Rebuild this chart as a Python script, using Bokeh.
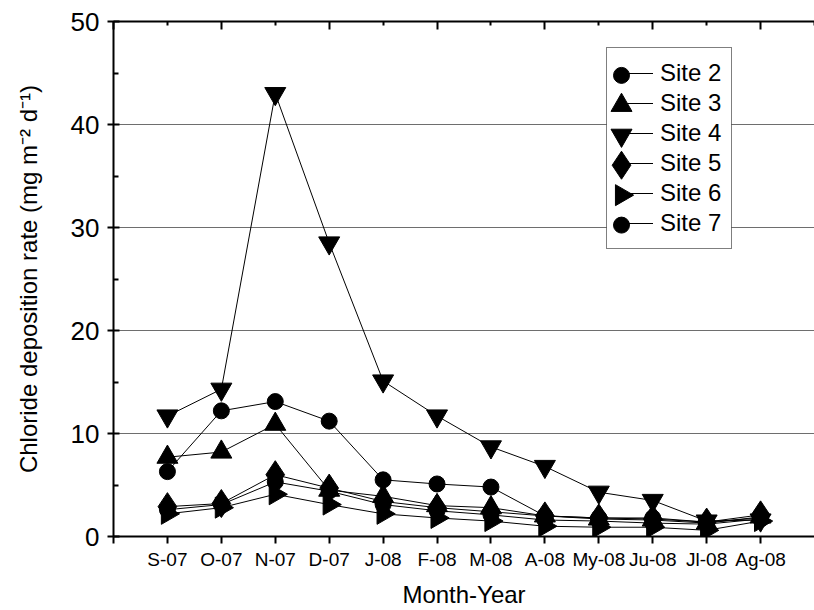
import math
from bokeh.plotting import figure
from bokeh.models import (LinearAxis, FixedTicker, Legend, LegendItem, Range1d,
                          ColumnDataSource)
from bokeh.embed import file_html
from bokeh.resources import INLINE

months = ["S-07", "O-07", "N-07", "D-07", "J-08", "F-08", "M-08",
          "A-08", "My-08", "Ju-08", "Jl-08", "Ag-08"]
site2 = [6.3, 12.2, 13.1, 11.2, 5.5, 5.1, 4.8, 2.0, 1.8, 1.8, 1.4, 1.8]
site3 = [7.7, 8.2, 10.9, 4.5, 3.9, 3.0, 2.8, 2.0, 1.7, 1.6, 1.3, 1.9]
site4 = [11.7, 14.3, 43.0, 28.5, 15.1, 11.7, 8.7, 6.8, 4.3, 3.5, 1.5, 1.6]
site5 = [2.9, 3.2, 6.0, 4.7, 3.4, 2.8, 2.4, 2.0, 1.8, 1.7, 1.4, 2.1]
site6 = [2.2, 2.8, 4.1, 3.1, 2.2, 1.8, 1.5, 1.0, 0.9, 0.9, 0.6, 1.5]
site7 = [2.6, 3.1, 5.3, 4.4, 3.1, 2.5, 2.1, 1.6, 1.5, 1.3, 1.2, 1.7]
site_names = ["Site 2", "Site 3", "Site 4", "Site 5", "Site 6", "Site 7"]
y_ticks = [0, 10, 20, 30, 40, 50]
y_minor = [5, 15, 25, 35, 45]

FONT = "Liberation Sans"
n = len(months)
x = list(range(1, n + 1))

# frame geometry (pixels)
W, H = 814, 610
FL, FR, FT, FB = 113, 814, 21, 537
X0, X1 = 0, n + 1
Y0, Y1 = 0, 50

p = figure(width=W, height=H, output_backend="svg", toolbar_location=None,
           x_range=Range1d(X0, X1), y_range=Range1d(Y0, Y1),
           min_border_left=FL, min_border_right=W - FR, min_border_top=FT,
           min_border_bottom=H - FB)
p.outline_line_color = None
p.background_fill_color = "white"
p.border_fill_color = "white"
p.xgrid.visible = False
p.ygrid.ticker = FixedTicker(ticks=y_ticks[1:-1])
p.ygrid.grid_line_color = "#6e6e6e"
p.ygrid.grid_line_width = 1

# bottom axis
xa = p.xaxis[0]
xa.ticker = FixedTicker(ticks=list(range(0, n + 1)))
ov = {0: ""}
for i, m in enumerate(months):
    ov[i + 1] = m
xa.major_label_overrides = ov
xa.major_tick_in = 0
xa.major_tick_out = 7
xa.minor_tick_line_color = None
xa.major_label_standoff = 5
xa.major_label_text_font = FONT
xa.major_label_text_font_size = "19px"
xa.major_label_text_color = "black"
xa.axis_label = "Month-Year"
xa.axis_label_text_font = FONT
xa.axis_label_text_font_size = "24px"
xa.axis_label_text_font_style = "normal"
xa.axis_label_text_color = "black"
xa.axis_label_standoff = 8
xa.axis_line_width = 2
xa.major_tick_line_width = 2

# left axis
ya = p.yaxis[0]
ya.ticker = FixedTicker(ticks=y_ticks, minor_ticks=y_minor)
ya.major_tick_in = 6
ya.major_tick_out = 6
ya.minor_tick_in = 5
ya.minor_tick_out = 0
ya.major_label_standoff = 8
ya.major_label_text_font = FONT
ya.major_label_text_font_size = "26px"
ya.major_label_text_color = "black"
ya.axis_label = "Chloride deposition rate (mg m\u207b\u00b2 d\u207b\u00b9)"
ya.axis_label_text_font = FONT
ya.axis_label_text_font_size = "24px"
ya.axis_label_text_font_style = "normal"
ya.axis_label_text_color = "black"
ya.axis_label_standoff = 26
ya.axis_line_width = 2
ya.major_tick_line_width = 2
ya.minor_tick_line_width = 2

# top axis, ticks inward, no labels
top_major = list(range(0, n + 2, 2))
top_minor = list(range(1, n + 2, 2))
top = LinearAxis(ticker=FixedTicker(ticks=top_major, minor_ticks=top_minor),
                 major_label_overrides={t: "" for t in top_major},
                 major_label_text_font_size="0px", major_label_standoff=0,
                 major_tick_in=8, major_tick_out=0, minor_tick_in=4, minor_tick_out=0,
                 axis_line_width=2, major_tick_line_width=2, minor_tick_line_width=2)
p.add_layout(top, "above")

series = [site2, site3, site4, site5, site6, site7]
markers = ["circle", "triangle", "inverted_triangle", "diamond", "triangle", "circle"]
sizes = [16, 21, 21, 28, 21, 16]
angles = [0, 0, 0, 0, -math.pi / 2, 0]

# legend layout (pixels)
LEG_RIGHT, LEG_BOTTOM = 731, 250
PAD, GLYPH_W, ROW_H, STANDOFF = 10, 36, 30, 7
LABEL_W = 62
leg_w = PAD + GLYPH_W + STANDOFF + LABEL_W + PAD
leg_h = 2 * PAD + ROW_H * len(site_names)
leg_left = LEG_RIGHT - leg_w
leg_top = LEG_BOTTOM - leg_h
MARK_SX = leg_left + PAD + 5


def sx_to_x(sx):
    return X0 + (sx - FL) / (FR - FL) * (X1 - X0)


def sy_to_y(sy):
    return Y0 + (FB - sy) / (FB - FT) * (Y1 - Y0)


# white legend background (below legend symbols)
p.quad(left=[sx_to_x(leg_left)], right=[sx_to_x(LEG_RIGHT)],
       bottom=[sy_to_y(LEG_BOTTOM)], top=[sy_to_y(leg_top)],
       fill_color="white", line_color=None)

items = []
for k, (name, vals, mk, sz, ang) in enumerate(zip(site_names, series, markers, sizes, angles)):
    src = ColumnDataSource(dict(x=x, y=vals, angle=[ang] * len(vals)))
    ln = p.line("x", "y", source=src, line_color="black", line_width=1)
    p.scatter("x", "y", source=src, marker=mk, size=sz, angle="angle",
              fill_color="black", line_color="black")
    items.append(LegendItem(label=name, renderers=[ln]))

for k, (mk, sz, ang) in enumerate(zip(markers, sizes, angles)):
    row_cy = leg_top + PAD + ROW_H * k + ROW_H / 2
    p.scatter([sx_to_x(MARK_SX)], [sy_to_y(row_cy)], marker=mk, size=sz, angle=ang,
              fill_color="black", line_color="black")

legend = Legend(items=items, location=(leg_left - FL, FB - LEG_BOTTOM), margin=0,
                border_line_color="black", border_line_width=1,
                background_fill_alpha=0,
                label_text_font=FONT, label_text_font_size="24px",
                label_text_color="black",
                glyph_width=GLYPH_W, glyph_height=ROW_H, label_height=ROW_H,
                spacing=0, padding=PAD, label_standoff=STANDOFF)
p.add_layout(legend)

open("out.html", "w").write(file_html(p, INLINE))
